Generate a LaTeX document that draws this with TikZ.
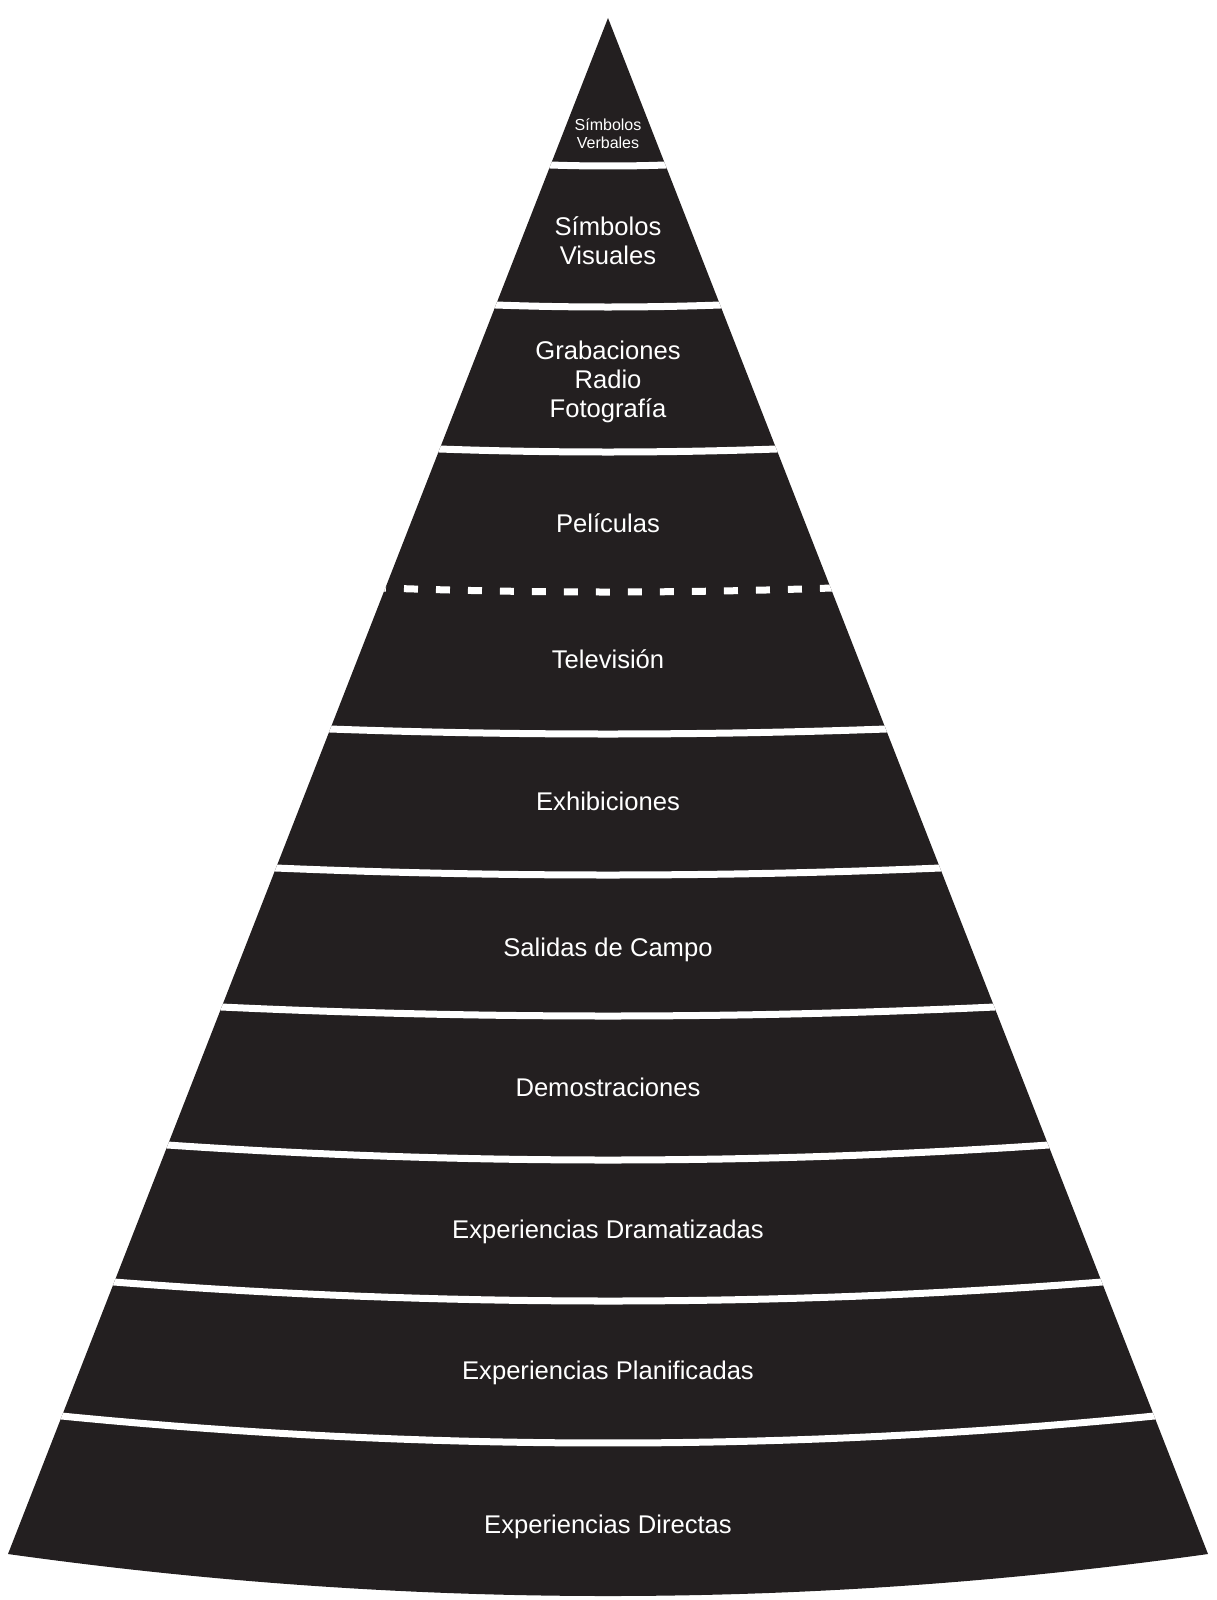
\documentclass[tikz,border=0pt]{standalone}
\usepackage{fontspec}
\setmainfont{Liberation Sans}
\definecolor{conefill}{HTML}{231F20}

\begin{document}
\begin{tikzpicture}[x=0.5pt, y=-0.5pt,
    band/.style={white, line width=3.5pt},
    lbl/.style={text=white, inner sep=0pt, align=center,
      font=\fontsize{12.8}{14.5}\selectfont},
    oneline/.style={lbl, text height=0.72em, text depth=0pt}]
  \useasboundingbox (0,0) rectangle (1216,1600);
  % the cone
  \fill[conefill] (608,18) -- (1208,1554) .. controls (808,1610) and (408,1610) .. (8,1554) -- cycle;
  \begin{scope}
  \clip (608,18) -- (1208,1554) .. controls (808,1610) and (408,1610) .. (8,1554) -- cycle;
  \foreach \e/\s [evaluate=\e as \h using 0.391*(\e-18)] in
      {165/1, 305/2, 449/3, 729/5, 868/7, 1007/9, 1145/15, 1282/19, 1416/27}
    \draw[band] plot[domain=-1.15:1.15, samples=40] ({608+\x*\h}, {\e+\s*(1-\x*\x)});
  \draw[band, dash pattern=on 7pt off 9pt]
    plot[domain=-1.055:1.15, samples=40] ({608+\x*223.7}, {588+4*(1-\x*\x)});
  \end{scope}
  % labels
  \node[lbl, font=\fontsize{8}{9}\selectfont] (verbales) at (608,134) {Símbolos\\Verbales};
  \node[lbl] (visuales) at (608,241) {Símbolos\\Visuales};
  \node[lbl] (grabaciones) at (608,382) {Grabaciones\\Radio\\Fotografía};
  \node[oneline] (peliculas) at (608,525) {Películas};
  \node[oneline] (tv) at (608,661) {Televisión};
  \node[oneline] (exhib) at (608,803) {Exhibiciones};
  \node[oneline] (salidas) at (608,949) {Salidas de Campo};
  \node[oneline] (demos) at (608,1089) {Demostraciones};
  \node[oneline] (dramat) at (608,1231) {Experiencias Dramatizadas};
  \node[oneline] (planif) at (608,1372) {Experiencias Planificadas};
  \node[oneline] (directas) at (608,1526) {Experiencias Directas};
\end{tikzpicture}
\end{document}
